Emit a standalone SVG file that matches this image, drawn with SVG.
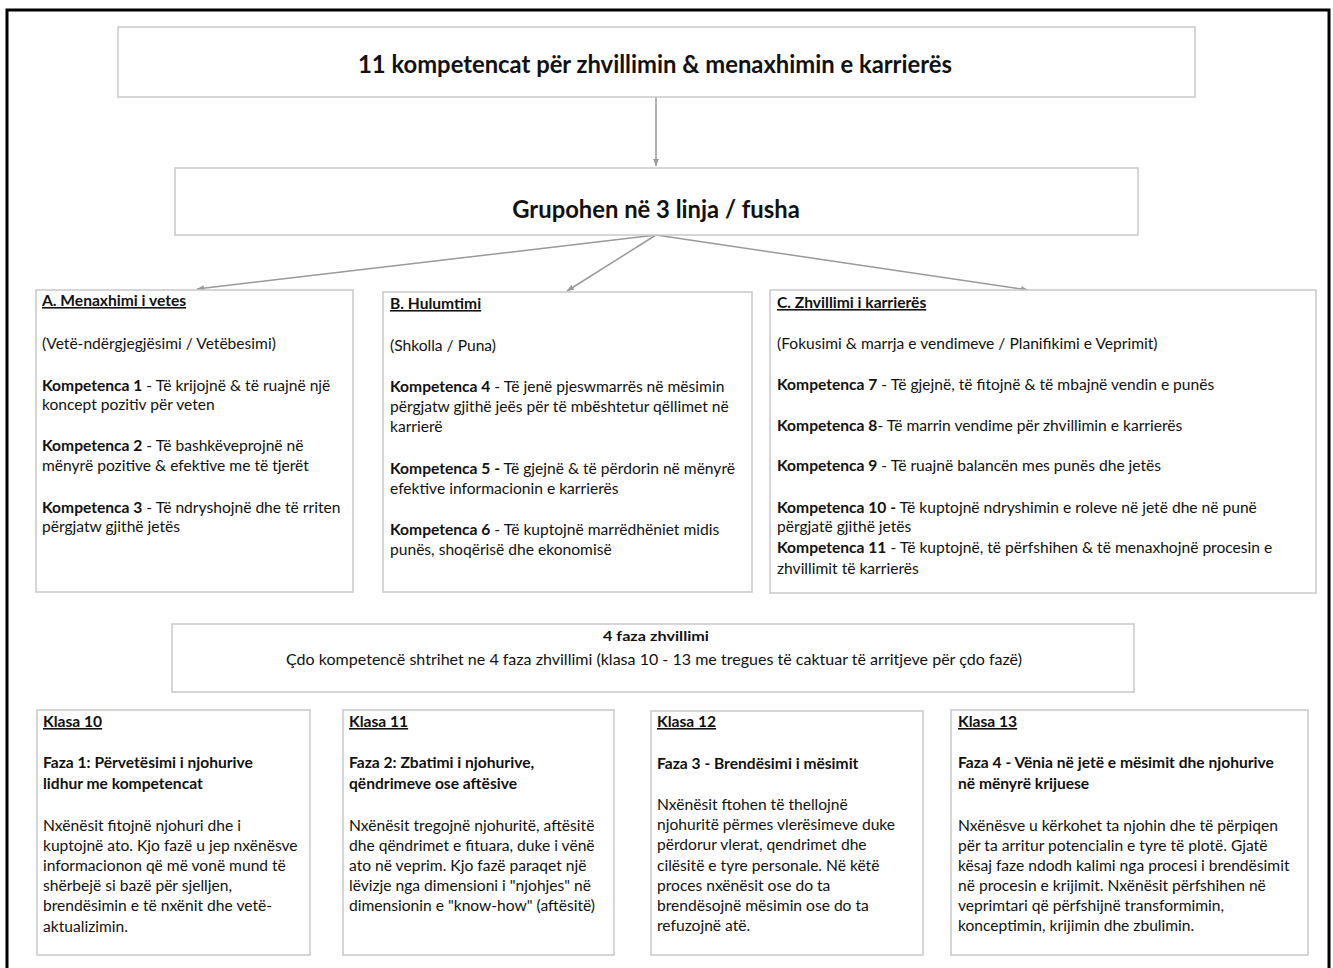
<svg xmlns="http://www.w3.org/2000/svg" width="1333" height="968" viewBox="0 0 1333 968">
<style>
text{font-family:Lato,"Open Sans","Liberation Sans",sans-serif;fill:#111;}
.box{fill:#fff;stroke:#c9c9c9;stroke-width:1.5;}
.t{font-size:15.6px;}
.b{font-weight:bold;}
.u{font-weight:bold;text-decoration:underline;}
.big{font-size:23.8px;font-weight:bold;}
.conn{stroke:#9a9a9a;stroke-width:1.5;fill:none;marker-end:url(#ah);}
</style>
<defs>
<marker id="ah" markerWidth="8" markerHeight="8" refX="7" refY="4" orient="auto" markerUnits="userSpaceOnUse">
<path d="M0,1 L7,4 L0,7 Z" fill="#9a9a9a"/>
</marker>
</defs>
<rect x="0" y="0" width="1333" height="968" fill="#fff"/>
<rect x="7" y="10" width="1322" height="970" fill="none" stroke="#000" stroke-width="3"/>

<g id="connectors">
<line class="conn" x1="656" y1="97" x2="656" y2="166"/>
<line class="conn" x1="656" y1="235" x2="197" y2="289"/>
<line class="conn" x1="656" y1="235" x2="567" y2="291"/>
<line class="conn" x1="656" y1="235" x2="1028" y2="290"/>
</g>

<g id="top">
<rect class="box" x="118" y="27" width="1077" height="70"/>
<text class="big" x="655" y="73" text-anchor="middle">11 kompetencat për zhvillimin &amp; menaxhimin e karrierës</text>
</g>

<g id="group">
<rect class="box" x="175" y="168" width="963" height="67"/>
<text class="big" x="656" y="218" text-anchor="middle">Grupohen në 3 linja / fusha</text>
</g>

<g id="boxA" class="t">
<rect class="box" x="36" y="290" width="317" height="302"/>
<text x="42" y="306" class="u">A. Menaxhimi i vetes</text>
<text x="42" y="349">(Vetë-ndërgjegjësimi / Vetëbesimi)</text>
<text x="42" y="391"><tspan class="b">Kompetenca 1</tspan> - Të krijojnë &amp; të ruajnë një</text>
<text x="42" y="410">koncept pozitiv për veten</text>
<text x="42" y="451"><tspan class="b">Kompetenca 2</tspan> - Të bashkëveprojnë në</text>
<text x="42" y="471">mënyrë pozitive &amp; efektive me të tjerët</text>
<text x="42" y="513"><tspan class="b">Kompetenca 3</tspan> - Të ndryshojnë dhe të rriten</text>
<text x="42" y="532">përgjatw gjithë jetës</text>
</g>

<g id="boxB" class="t">
<rect class="box" x="383" y="292" width="369" height="300"/>
<text x="390" y="309" class="u">B. Hulumtimi</text>
<text x="390" y="351">(Shkolla / Puna)</text>
<text x="390" y="392"><tspan class="b">Kompetenca 4</tspan> - Të jenë pjeswmarrës në mësimin</text>
<text x="390" y="412">përgjatw gjithë jeës për të mbështetur qëllimet në</text>
<text x="390" y="432">karrierë</text>
<text x="390" y="474"><tspan class="b">Kompetenca 5 -</tspan> Të gjejnë &amp; të përdorin në mënyrë</text>
<text x="390" y="494">efektive informacionin e karrierës</text>
<text x="390" y="535"><tspan class="b">Kompetenca 6</tspan> - Të kuptojnë marrëdhëniet midis</text>
<text x="390" y="555">punës, shoqërisë dhe ekonomisë</text>
</g>

<g id="boxC" class="t">
<rect class="box" x="770" y="290" width="546" height="303"/>
<text x="777" y="308" class="u">C. Zhvillimi i karrierës</text>
<text x="777" y="349">(Fokusimi &amp; marrja e vendimeve / Planifikimi e Veprimit)</text>
<text x="777" y="390"><tspan class="b">Kompetenca 7</tspan> - Të gjejnë, të fitojnë &amp; të mbajnë vendin e punës</text>
<text x="777" y="431"><tspan class="b">Kompetenca 8</tspan>- Të marrin vendime për zhvillimin e karrierës</text>
<text x="777" y="471"><tspan class="b">Kompetenca 9</tspan> - Të ruajnë balancën mes punës dhe jetës</text>
<text x="777" y="513"><tspan class="b">Kompetenca 10 -</tspan> Të kuptojnë ndryshimin e roleve në jetë dhe në punë</text>
<text x="777" y="532">përgjatë gjithë jetës</text>
<text x="777" y="553"><tspan class="b">Kompetenca 11</tspan> - Të kuptojnë, të përfshihen &amp; të menaxhojnë procesin e</text>
<text x="777" y="574">zhvillimit të karrierës</text>
</g>

<g id="phases">
<rect class="box" x="172" y="624" width="962" height="68"/>
<text x="656" y="641" text-anchor="middle" font-size="14" font-weight="bold" textLength="106" lengthAdjust="spacingAndGlyphs">4 faza zhvillimi</text>
<text x="654" y="665" text-anchor="middle" font-size="15" textLength="736" lengthAdjust="spacingAndGlyphs">Çdo kompetencë shtrihet ne 4 faza zhvillimi (klasa 10 - 13 me tregues të caktuar të arritjeve për çdo fazë)</text>
</g>

<g id="klasa10" class="t">
<rect class="box" x="37" y="710" width="273" height="245"/>
<text x="43" y="727" class="u">Klasa 10</text>
<text x="43" y="768" class="b">Faza 1: Përvetësimi i njohurive</text>
<text x="43" y="789" class="b">lidhur me kompetencat</text>
<text x="43" y="831">Nxënësit fitojnë njohuri dhe i</text>
<text x="43" y="851">kuptojnë ato. Kjo fazë u jep nxënësve</text>
<text x="43" y="871">informacionon që më vonë mund të</text>
<text x="43" y="891">shërbejë si bazë për sjelljen,</text>
<text x="43" y="911">brendësimin e të nxënit dhe vetë-</text>
<text x="43" y="932">aktualizimin.</text>
</g>

<g id="klasa11" class="t">
<rect class="box" x="343" y="710" width="271" height="245"/>
<text x="349" y="727" class="u">Klasa 11</text>
<text x="349" y="768" class="b">Faza 2: Zbatimi i njohurive,</text>
<text x="349" y="789" class="b">qëndrimeve ose aftësive</text>
<text x="349" y="831">Nxënësit tregojnë njohuritë, aftësitë</text>
<text x="349" y="851">dhe qëndrimet e fituara, duke i vënë</text>
<text x="349" y="871">ato në veprim. Kjo fazë paraqet një</text>
<text x="349" y="891">lëvizje nga dimensioni i "njohjes" në</text>
<text x="349" y="911">dimensionin e "know-how" (aftësitë)</text>
</g>

<g id="klasa12" class="t">
<rect class="box" x="651" y="711" width="272" height="244"/>
<text x="657" y="727" class="u">Klasa 12</text>
<text x="657" y="769" class="b">Faza 3 - Brendësimi i mësimit</text>
<text x="657" y="810">Nxënësit ftohen të thellojnë</text>
<text x="657" y="830">njohuritë përmes vlerësimeve duke</text>
<text x="657" y="850">përdorur vlerat, qendrimet dhe</text>
<text x="657" y="871">cilësitë e tyre personale. Në këtë</text>
<text x="657" y="891">proces nxënësit ose do ta</text>
<text x="657" y="911">brendësojnë mësimin ose do ta</text>
<text x="657" y="931">refuzojnë atë.</text>
</g>

<g id="klasa13" class="t">
<rect class="box" x="951" y="710" width="357" height="245"/>
<text x="958" y="727" class="u">Klasa 13</text>
<text x="958" y="768" class="b">Faza 4 - Vënia në jetë e mësimit dhe njohurive</text>
<text x="958" y="789" class="b">në mënyrë krijuese</text>
<text x="958" y="831">Nxënësve u kërkohet ta njohin dhe të përpiqen</text>
<text x="958" y="851">për ta arritur potencialin e tyre të plotë. Gjatë</text>
<text x="958" y="871">kësaj faze ndodh kalimi nga procesi i brendësimit</text>
<text x="958" y="891">në procesin e krijimit. Nxënësit përfshihen në</text>
<text x="958" y="911">veprimtari që përfshijnë transformimin,</text>
<text x="958" y="931">konceptimin, krijimin dhe zbulimin.</text>
</g>
</svg>
